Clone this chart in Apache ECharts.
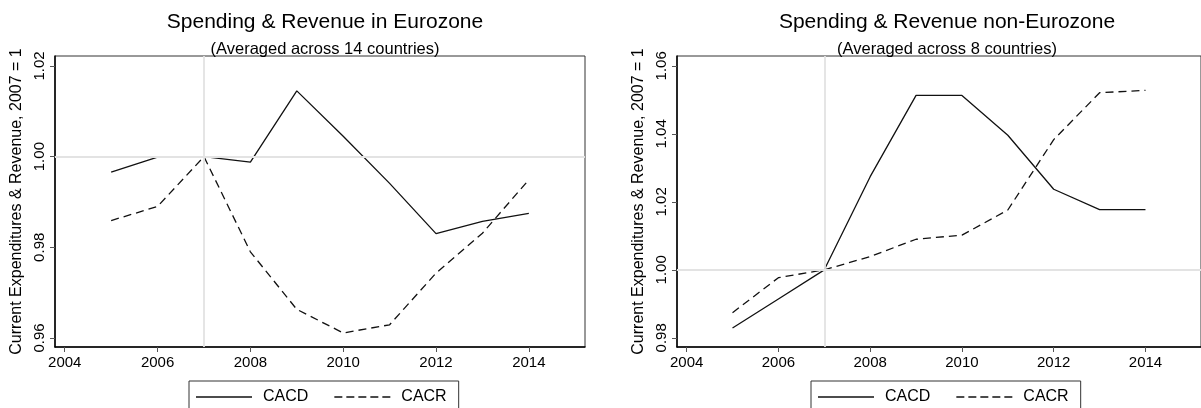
<!DOCTYPE html>
<html>
<head>
<meta charset="utf-8">
<script src="https://cdn.jsdelivr.net/npm/echarts@6/dist/echarts.min.js"></script>
<style>
  html, body { margin: 0; padding: 0; background: #fff; }
  #chart { width: 1201px; height: 408px; }
</style>
</head>
<body>
<div id="chart"></div>
<script>
const years = [2005, 2006, 2007, 2008, 2009, 2010, 2011, 2012, 2013, 2014]

// Eurozone (14 countries)
const euroCACD = [0.9966, 0.9999, 1.0000, 0.9988, 1.0145, 1.0045, 0.9941, 0.9830, 0.9857, 0.9875]
const euroCACR = [0.9859, 0.9890, 1.0000, 0.9790, 0.9663, 0.9611, 0.9629, 0.9743, 0.9831, 0.9949]

// non-Eurozone (8 countries)
const nonEuroCACD = [0.9829, 0.9914, 1.0000, 1.0274, 1.0513, 1.0513, 1.0396, 1.0237, 1.0177, 1.0177]
const nonEuroCACR = [0.9874, 0.9977, 1.0000, 1.0039, 1.0090, 1.0102, 1.0176, 1.0383, 1.0521, 1.0528]

const xTicks = [2004, 2006, 2008, 2010, 2012, 2014]
const euroYTicks = [0.96, 0.98, 1.00, 1.02]
const nonEuroYTicks = [0.98, 1.00, 1.02, 1.04, 1.06]

const FONT = '"Liberation Sans", Arial, Helvetica, sans-serif'
const yName = 'Current Expenditures & Revenue, 2007 = 1'

// legend keys drawn like the Stata ones (solid / dashed stroke)
const solidKey = 'path://M0 0H560V13H0Z'
const dashKey = 'path://M0 0H80V13H0Z M120 0H200V13H120Z M240 0H320V13H240Z M360 0H440V13H360Z M480 0H560V13H480Z'

const chart = echarts.init(document.getElementById('chart'))

function pairs(vals) {
  return years.map((y, i) => [y, vals[i]])
}

function xAxisFor(gridIndex) {
  return {
    type: 'value',
    gridIndex,
    min: 2003.79,
    max: 2015.21,
    axisLine: { show: true, lineStyle: { color: '#000', width: 1.5 } },
    axisTick: { show: true, customValues: xTicks, length: 5, lineStyle: { color: '#555' } },
    axisLabel: {
      customValues: xTicks,
      color: '#000',
      fontSize: 15,
      fontFamily: FONT,
      margin: 8,
      formatter: (v) => String(v)
    },
    splitLine: { show: false }
  }
}

function yAxisFor(gridIndex, ticks, min, max) {
  return {
    type: 'value',
    gridIndex,
    min,
    max,
    name: yName,
    nameLocation: 'middle',
    nameRotate: 90,
    nameGap: 30,
    nameTextStyle: { color: '#000', fontSize: 16, fontFamily: FONT },
    axisLine: { show: true, lineStyle: { color: '#000', width: 1.5 } },
    axisTick: { show: true, customValues: ticks, length: 5, lineStyle: { color: '#555' } },
    axisLabel: {
      customValues: ticks,
      rotate: 90,
      color: '#000',
      fontSize: 15,
      fontFamily: FONT,
      margin: 8,
      formatter: (v) => v.toFixed(2)
    },
    splitLine: { show: false }
  }
}

function refLines(xi, yi) {
  return {
    type: 'line',
    xAxisIndex: xi,
    yAxisIndex: yi,
    data: [],
    z: 1,
    silent: true,
    markLine: {
      silent: true,
      symbol: 'none',
      label: { show: false },
      lineStyle: { color: '#e3e3e3', width: 1.8, type: 'solid' },
      data: [{ xAxis: 2007 }, { yAxis: 1 }]
    }
  }
}

function lineSeries(name, vals, idx, dashed) {
  return {
    name,
    type: 'line',
    xAxisIndex: idx,
    yAxisIndex: idx,
    data: pairs(vals),
    symbol: 'none',
    z: 3,
    lineStyle: { color: '#111', width: 1.3, type: dashed ? [8, 5] : 'solid' },
    itemStyle: { color: '#111' }
  }
}

function legendAt(left) {
  return {
    data: [
      { name: 'CACD', icon: solidKey },
      { name: 'CACR', icon: dashKey }
    ],
    left,
    top: 381,
    selectedMode: false,
    itemWidth: 56,
    itemHeight: 14,
    itemGap: 26,
    symbolKeepAspect: true,
    padding: [8, 12, 30, 7],
    borderColor: '#333',
    borderWidth: 1,
    itemStyle: { color: '#111' },
    textStyle: { color: '#000', fontSize: 16, fontFamily: FONT, padding: [0, 0, 0, 6] }
  }
}

const option = {
  backgroundColor: '#fff',
  animation: false,
  title: [
    { text: 'Spending & Revenue in Eurozone', left: 320, top: 7, textAlign: 'center',
      textStyle: { fontSize: 21, fontWeight: 'normal', color: '#000', fontFamily: FONT } },
    { text: '(Averaged across 14 countries)', left: 320, top: 36, textAlign: 'center',
      textStyle: { fontSize: 16.5, fontWeight: 'normal', color: '#000', fontFamily: FONT } },
    { text: 'Spending & Revenue non-Eurozone', left: 942, top: 7, textAlign: 'center',
      textStyle: { fontSize: 21, fontWeight: 'normal', color: '#000', fontFamily: FONT } },
    { text: '(Averaged across 8 countries)', left: 942, top: 36, textAlign: 'center',
      textStyle: { fontSize: 16.5, fontWeight: 'normal', color: '#000', fontFamily: FONT } }
  ],
  legend: [legendAt(189), legendAt(811)],
  grid: [
    { left: 55, top: 56, width: 530, height: 291, show: true, borderColor: '#333', borderWidth: 1, backgroundColor: 'transparent' },
    { left: 677, top: 56, width: 530, height: 291, show: true, borderColor: '#333', borderWidth: 1, backgroundColor: 'transparent' }
  ],
  xAxis: [xAxisFor(0), xAxisFor(1)],
  yAxis: [
    yAxisFor(0, euroYTicks, 0.958, 1.0222),
    yAxisFor(1, nonEuroYTicks, 0.9773, 1.0629)
  ],
  series: [
    refLines(0, 0),
    refLines(1, 1),
    lineSeries('CACD', euroCACD, 0, false),
    lineSeries('CACR', euroCACR, 0, true),
    lineSeries('CACD', nonEuroCACD, 1, false),
    lineSeries('CACR', nonEuroCACR, 1, true)
  ]
}

chart.setOption(option)
</script>
</body>
</html>
